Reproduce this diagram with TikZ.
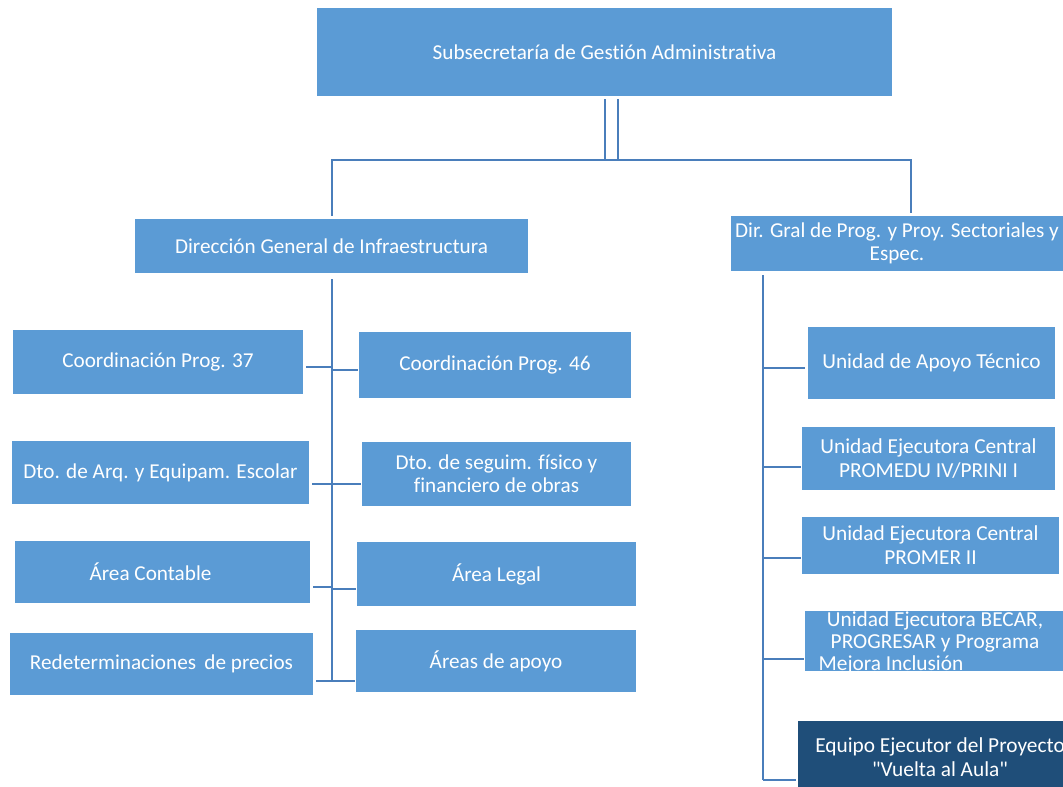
\documentclass[tikz,border=0pt]{standalone}
\usepackage{fontspec}
\setmainfont{Carlito}[Ligatures={NoCommon}]
\usepackage{tikz}
\definecolor{boxblue}{HTML}{5B9BD5}
\definecolor{linkblue}{HTML}{4A7EBB}
\definecolor{darkbox}{HTML}{1F4E79}

\begin{document}
\begin{tikzpicture}[x=0.75pt,y=-0.75pt]
 \newcommand{\px}{0.75pt}
 \tikzstyle{orgbox} = [fill=boxblue,text=white,inner sep=1pt,align=center,font=\fontsize{15.9}{17.3}\selectfont]
 \tikzstyle{unitbox} = [orgbox,font=\fontsize{16}{18}\selectfont]
 \tikzstyle{link} = [draw=linkblue,line width=2.6*\px]

  \useasboundingbox (0,0) rectangle (1063,787);
  \clip (0,0) rectangle (1063,787);

  % Top levels
  \node[orgbox,minimum width=575*\px,minimum height=88*\px] (sub) at (604.5,52) {Subsecretaría de Gestión Administrativa};
  \node[orgbox,minimum width=393*\px,minimum height=54*\px] (dgi) at (331.5,246) {Dirección General de Infraestructura};
  \node[orgbox,minimum width=332*\px,minimum height=55*\px] (dgp) at (897,243.5) {Dir. Gral de Prog. y Proy. Sectoriales y\\Espec.};

  \coordinate (hub) at (611.5,160);
  \coordinate (hubL) at (332,160);
  \coordinate (hubR) at (911,160);
  \draw[link,double=white,double distance=10.5*\px] ([yshift=-3*\px]sub.south -| hub) -- (hub);
  \draw[link] ([yshift=3*\px]dgi.north -| hubL) -- (hubL) -- (hubR) -- ([yshift=3*\px]dgp.north -| hubR);

  % Left branch
  \node[orgbox,minimum width=290*\px,minimum height=64*\px] (c37) at (158,362) {Coordinación Prog. 37};
  \node[orgbox,minimum width=272*\px,minimum height=66*\px] (c46) at (495,365) {Coordinación Prog. 46};
  \node[orgbox,minimum width=297*\px,minimum height=63*\px] (darq) at (160.5,472.5) {Dto. de Arq. y Equipam. Escolar};
  \node[orgbox,minimum width=269*\px,minimum height=64*\px] (dseg) at (496.5,474) {Dto. de seguim. físico y\\financiero de obras};
  \node[orgbox,minimum width=295*\px,minimum height=62*\px] (acont) at (162.5,572) {Área Contable\hspace*{18pt}};
  \node[orgbox,minimum width=279*\px,minimum height=64*\px] (alegal) at (496.5,574) {Área Legal};
  \node[orgbox,minimum width=303*\px,minimum height=62*\px] (redet) at (161.5,664) {Redeterminaciones\, de precios};
  \node[orgbox,minimum width=280*\px,minimum height=62*\px] (aapoyo) at (496,661) {Áreas de apoyo};

  \coordinate (trunkL) at (332,681);
  \draw[link] ([yshift=-6*\px]dgi.south -| trunkL) -- (trunkL);
  \coordinate (l1) at (332,367);
  \coordinate (r1) at (332,370);
  \coordinate (l2) at (332,484);
  \coordinate (l3) at (332,587);
  \coordinate (r3) at (332,589);
  \coordinate (l4) at (332,681);
  \draw[link] ([xshift=3*\px]l1 -| c37.east) -- (l1);
  \draw[link] (r1) -- ([xshift=-1*\px]r1 -| c46.west);
  \draw[link] ([xshift=3*\px]l2 -| darq.east) -- (l2) -- ([xshift=-1*\px]l2 -| dseg.west);
  \draw[link] ([xshift=3*\px]l3 -| acont.east) -- (l3);
  \draw[link] (r3) -- ([xshift=-1*\px]r3 -| alegal.west);
  \draw[link] ([xshift=3*\px]l4 -| redet.east) -- (l4) -- ([xshift=-1*\px]l4 -| aapoyo.west);

  % Right branch
  \node[unitbox,minimum width=247*\px,minimum height=72*\px] (uat) at (931.5,363) {Unidad de Apoyo Técnico};
  \node[unitbox,minimum width=253*\px,minimum height=63*\px] (promedu) at (928.5,458.5) {Unidad Ejecutora Central\\PROMEDU IV/PRINI I};
  \node[unitbox,minimum width=257*\px,minimum height=57*\px] (promer) at (930.5,545.5) {Unidad Ejecutora Central\\PROMER II};
  \node[fill=boxblue,inner sep=0pt,minimum width=260*\px,minimum height=60*\px,
        path picture={\node[unitbox,fill=none,font=\fontsize{16}{16.5}\selectfont] at ([yshift=-2*\px]path picture bounding box.center)
        {Unidad Ejecutora BECAR,\\PROGRESAR y Programa\\Mejora Inclusión\hspace*{66pt}};}] (becar) at (935,641) {};
  \node[unitbox,fill=darkbox,minimum width=284*\px,minimum height=72*\px] (vaula) at (940,757) {Equipo Ejecutor del Proyecto\\\textquotedbl Vuelta al Aula\textquotedbl};

  \coordinate (trunkR) at (763,780);
  \draw[link] ([yshift=-4*\px]dgp.south -| trunkR) -- (trunkR);
  \coordinate (u1) at (763,368);
  \coordinate (u2) at (763,467);
  \coordinate (u3) at (763,558);
  \coordinate (u4) at (763,659);
  \coordinate (u5) at (763,780);
  \draw[link] (u1) -- ([xshift=-3*\px]u1 -| uat.west);
  \draw[link] (u2) -- ([xshift=-1*\px]u2 -| promedu.west);
  \draw[link] (u3) -- ([xshift=-1*\px]u3 -| promer.west);
  \draw[link] (u4) -- ([xshift=-1*\px]u4 -| becar.west);
  \draw[link] (u5) -- ([xshift=-2*\px]u5 -| vaula.west);

\end{tikzpicture}
\end{document}
